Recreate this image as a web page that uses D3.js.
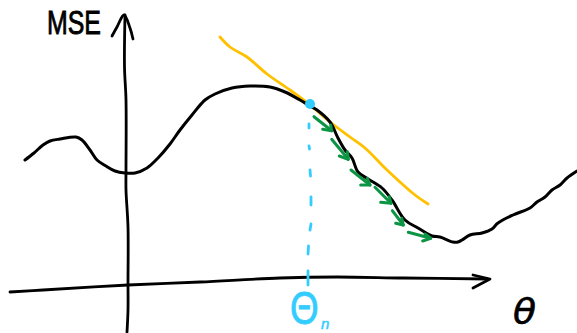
<!DOCTYPE html>
<html>
<head>
<meta charset="utf-8">
<script src="https://d3js.org/d3.v7.min.js"></script>
<style>
html, body { margin: 0; padding: 0; background: #fff; }
svg { display: block; }
</style>
</head>
<body>
<div id="chart"></div>
<script>
// MSE curve
var curveTheta = [-103,-94,-85,-78,-68,-52,-46,-38,-31,-22,-13,-3,7,19,30,42,52,64,77,87,104,122,142,157,172,182,189,202,210,217,224,230,240,254,264,277,290,304,312,325,330,334,342,354,364,370,385,402,409,417,424,432,439,449];
var curveMse = [125,132,140,144,146,148,145,135,125,119,114,112,112,117,127,141,155,170,185,191,197,199,198,193,185,179,175,163,147,135,127,113,106,97,85,65,57,49,48,43,43,45,50,52,56,62,70,77,83,88,95,100,107,114];

// tangent line
var tangentTheta = [92,102,119,139,162,182,202,222,237,259,287,300];
var tangentMse = [248,238,228,211,195,180,163,148,137,115,90,81];

// hand drawn axes
var yAxisTheta = [-3,-3.5,-2,-2,-2,0,0,0,-1];
var yAxisMse = [270,218,185,115,95,58,2,-25,-47];
var yHeadTheta = [-16,-11,-4,2,5];
var yHeadMse = [249,258,270,257,246];
var xAxisTheta = [-118,-85,0,72,152,209,275,359];
var xAxisMse = [-7,-5,0,3,7,8,7,6];
var xHeadTheta = [345,362,345];
var xHeadMse = [10,6,-3];

// gradient steps: tail, tip, barb, barb
var stepTheta = [[186,203.7,194.7,202.7],[203.7,220.3,211.3,219.3],[223,242,232.7,239.3],[247,263,252.7,261.3],[264.3,275.3,267.7,273.7],[280.3,302.7,294.7,297]];
var stepMse = [[168.3,154.3,155.7,160],[145.7,125.7,129,133.3],[115,100,100,106.7],[97.7,81.7,82.7,88.3],[74.3,60,61.7,66.7],[52.7,46.7,44,51]];

// current estimate and the dashes dropping to the axis
var pointTheta = [182];
var pointMse = [181];
var dashTheta = [[181,181],[181,181.5],[182,182.5],[183,183],[183,182],[180.5,180],[180,180]];
var dashMse = [[161,157],[139,136],[115,109],[88,80],[61,55],[39,31],[14,0]];

var labels = ["MSE", "θ", "Θ", "n"];

var width = 577, height = 333;

var svg = d3.select("#chart")
    .append("svg")
    .attr("width", width)
    .attr("height", height);

var xScale = d3.scaleLinear().domain([-128, 449]).range([0, width]);
var yScale = d3.scaleLinear().domain([285, -48]).range([0, height]);

var smooth = d3.line()
    .x(function(d) { return xScale(d[0]); })
    .y(function(d) { return yScale(d[1]); })
    .curve(d3.curveCatmullRom.alpha(0.5));

var straight = d3.line()
    .x(function(d) { return xScale(d[0]); })
    .y(function(d) { return yScale(d[1]); });

function stroke(path, gen, color, w) {
    return svg.append("path")
        .attr("d", gen(path))
        .attr("fill", "none")
        .attr("stroke", color)
        .attr("stroke-width", w)
        .attr("stroke-linecap", "round")
        .attr("stroke-linejoin", "round");
}

// --------- axes
stroke(d3.zip(xAxisTheta, xAxisMse), smooth, "#000", 2.8);
stroke(d3.zip(xHeadTheta, xHeadMse), straight, "#000", 2.8);
stroke(d3.zip(yAxisTheta, yAxisMse), smooth, "#000", 2.8);
stroke(d3.zip(yHeadTheta, yHeadMse), smooth, "#000", 2.8);

// --------- tangent and curve
stroke(d3.zip(tangentTheta, tangentMse), smooth, "#ffc000", 2.8);
stroke(d3.zip(curveTheta, curveMse), smooth, "#000", 3);

// --------- dashes
dashTheta.forEach(function(t, i) {
    stroke(d3.zip(t, dashMse[i]), straight, "#33ccff", 2.8);
});

svg.selectAll("circle.estimate")
    .data(d3.zip(pointTheta, pointMse))
    .enter()
    .append("circle")
    .attr("class", "estimate")
    .attr("cx", function(d) { return xScale(d[0]); })
    .attr("cy", function(d) { return yScale(d[1]); })
    .attr("r", 5)
    .attr("fill", "#33ccff");

// --------- green steps
stepTheta.forEach(function(t, i) {
    var m = stepMse[i];
    stroke([[t[0], m[0]], [t[1], m[1]]], straight, "#0b9444", 3);
    stroke([[t[2], m[2]], [t[1], m[1]], [t[3], m[3]]], straight, "#0b9444", 3);
});

// --------- labels
svg.append("text")
    .attr("x", 47)
    .attr("y", 34)
    .attr("font-family", "Liberation Sans")
    .attr("font-size", 34)
    .attr("textLength", 54)
    .attr("lengthAdjust", "spacingAndGlyphs")
    .attr("stroke", "#000")
    .attr("stroke-width", 0.9)
    .attr("fill", "#000")
    .text(labels[0]);

svg.append("text")
    .attr("x", 513)
    .attr("y", 324)
    .attr("font-family", "DejaVu Sans")
    .attr("font-style", "italic")
    .attr("font-size", 35)
    .attr("textLength", 23)
    .attr("lengthAdjust", "spacingAndGlyphs")
    .attr("stroke", "#000")
    .attr("stroke-width", 0.6)
    .attr("fill", "#000")
    .text(labels[1]);

svg.append("text")
    .attr("transform", "translate(290,324) scale(0.8,1)")
    .attr("font-family", "Liberation Sans")
    .attr("font-size", 46)
    .attr("stroke", "#33ccff")
    .attr("stroke-width", 0.8)
    .attr("fill", "#33ccff")
    .text(labels[2]);

svg.append("text")
    .attr("x", 321)
    .attr("y", 329)
    .attr("font-family", "Liberation Sans")
    .attr("font-style", "italic")
    .attr("font-size", 15)
    .attr("stroke", "#33ccff")
    .attr("stroke-width", 0.5)
    .attr("fill", "#33ccff")
    .text(labels[3]);
</script>
</body>
</html>
